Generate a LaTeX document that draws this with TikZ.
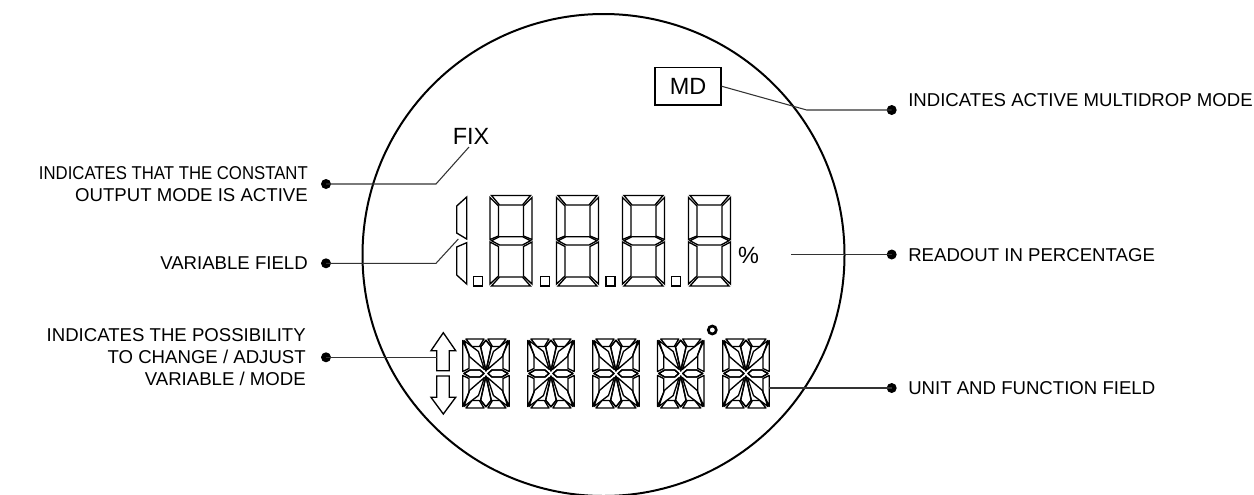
\documentclass[tikz,border=0pt]{standalone}
\usepackage{fontspec}
\setmainfont{Liberation Sans}
\usetikzlibrary{calc}
\tikzset{
  dot/.style={circle,fill=black,inner sep=0pt,minimum size=7.5pt},
  leader/.style={draw=black!80,line width=0.8pt},
  caption/.style={inner sep=0pt,font=\fontsize{13.95}{16.5}\selectfont},
  lcd/.style={inner sep=0pt,font=\fontsize{17.6}{20}\selectfont},
  seg/.style={draw,line width=1pt,line join=miter},
  segthick/.style={draw,line width=1pt,line join=round},
}
\newcommand{\sevenseg}[1]{%
  \begin{scope}[shift={(#1,195)}]
    \foreach \sx/\ox in {1/0,-1/43} {
      \begin{scope}[shift={(\ox,0)},xscale=\sx]
        \draw[seg] (0.5,2.5) -- (9,11) -- (9,41) -- (0.5,44.5) -- cycle;
        \draw[seg] (0.5,47) -- (9,51.5) -- (9,81) -- (0.5,89) -- cycle;
      \end{scope}
    }
    \draw[seg] (2,0.5) -- (41,0.5) -- (33,10) -- (10,10) -- cycle;
    \draw[seg] (2,45.7) -- (10,41.7) -- (33,41.7) -- (41,45.7) -- (33,50) -- (10,50) -- cycle;
    \draw[seg] (2,91) -- (41,91) -- (33,82) -- (10,82) -- cycle;
  \end{scope}}
\newcommand{\alphaseg}[1]{%
  \begin{scope}[shift={(#1+23.25,373.5)}]
    \foreach \sx/\sy in {1/1,-1/1,1/-1,-1/-1} {
      \begin{scope}[xscale=\sx,yscale=\sy]
        \draw[segthick] (-23.25,-33) -- (-23.25,-2) -- (-17,-5) -- (-17,-19) -- cycle;
        \draw[segthick] (-20,-34.5) -- (-2,-34.5) -- (-6.5,-27) -- (-14,-27) -- cycle;
        \draw[segthick] (-22,-33) -- (-7.5,-22) -- (-1.5,-4) -- (-16.5,-17) -- cycle;
        \draw[segthick] (0,-33.3) -- (5.3,-26.7) -- (0,-2.5) -- (-5.3,-26.7) -- cycle;
        \draw[segthick] (-22,0) -- (-16,-3.5) -- (-6,-3.5) -- (-2,0) -- (-6,3.5) -- (-16,3.5) -- cycle;
      \end{scope}
    }
  \end{scope}}
\begin{document}
\begin{tikzpicture}[x=0.75pt,y=-0.75pt]
  \clip (0,0) rectangle (1254,494);
  \draw[line width=1.5pt] (603.5,255) circle[radius=241];

  % display
  \foreach \x in {489.5,556,622,688} {\sevenseg{\x}}
  \foreach \x in {473.5,540.5,606,671.5} {\draw[line width=0.8pt] (\x,276.5) rectangle ++(9,9.5);}
  \draw[seg] (466.7,197) -- (456.7,206) -- (456.7,233) -- (466.7,239) -- cycle;
  \draw[seg] (466.7,242.7) -- (456.7,247) -- (456.7,275) -- (466.7,284) -- cycle;
  \foreach \x in {462.7,527.7,592.7,657.5,722.7} {\alphaseg{\x}}
  \draw[seg] (443.3,332.7) -- (455.7,350.7) -- (449.3,350.7) -- (449.3,370.7) -- (436.7,370.7) -- (436.7,350.7) -- (431,350.7) -- cycle;
  \draw[seg] (443.3,414) -- (455.7,397.3) -- (449.3,397.3) -- (449.3,376) -- (436.7,376) -- (436.7,397.3) -- (431,397.3) -- cycle;
  \draw[line width=2pt] (712.3,330) circle[radius=4];

  \node[lcd] (fix) at (471,136.5) {FIX};
  \node[lcd] (perc) at (748.5,255) {\%};
  \node[lcd,draw,line width=0.8pt,minimum width=49.5pt,minimum height=28.2pt] (md) at (688,86.2) {MD};

  % ends of the leaders
  \coordinate (kfix) at (436,184);
  \coordinate (efix) at (469,147);
  \coordinate (kvar) at (436,263.3);
  \coordinate (evar) at (458.3,239);
  \coordinate (earr) at (436.7,357.3);
  \coordinate (kmd) at (806.7,110);
  \coordinate (eperc) at (791,254.5);
  \coordinate (eunit) at (769.3,388);

  \node[dot] (dfix) at (326,184) {};
  \node[dot] (dvar) at (326,263.3) {};
  \node[dot] (darr) at (326,357.3) {};
  \node[dot] (dmd) at (891.7,110) {};
  \node[dot] (dperc) at (891.7,254.5) {};
  \node[dot] (dunit) at (891.7,388) {};

  \draw[leader] (dfix.center) -- (kfix) -- (efix);
  \draw[leader] (dvar.center) -- (kvar) -- (evar);
  \draw[leader] (darr.center) -- (earr);
  \draw[leader] (md.east) -- (kmd) -- (dmd.center);
  \draw[leader] (eperc) -- (dperc.center);
  \draw[leader] (eunit) -- (dunit.center);

  \node[caption,align=right,anchor=east] (tfix) at (308,184) {\scalebox{0.9}[1]{INDICATES THAT THE CONSTANT}\\OUTPUT MODE IS ACTIVE};
  \node[caption,anchor=east] (tvar) at (308,263) {VARIABLE FIELD};
  \node[caption,align=right,anchor=east] (tarr) at (306,357) {INDICATES THE POSSIBILITY\\TO CHANGE / ADJUST\\VARIABLE / MODE};
  \node[caption,anchor=west] (tmd) at (908,100) {INDICATES ACTIVE MULTIDROP MODE};
  \node[caption,anchor=west] (tperc) at (908,255) {READOUT IN PERCENTAGE};
  \node[caption,anchor=west] (tunit) at (908,388) {UNIT AND FUNCTION FIELD};
\end{tikzpicture}
\end{document}
